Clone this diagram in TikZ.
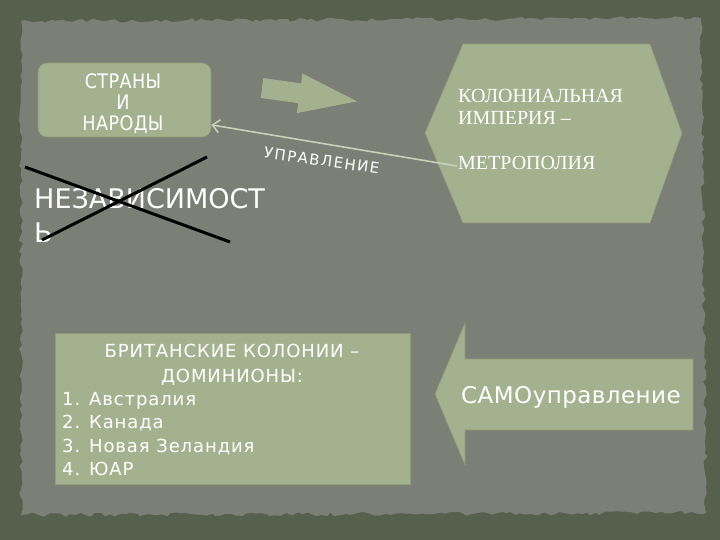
\documentclass[tikz,border=0pt]{standalone}
\usepackage{fontspec}
\setmainfont{DejaVu Sans}
\newfontfamily\serfontA{Liberation Serif}
\newfontfamily\spfontA[FakeStretch=0.88,LetterSpace=2]{DejaVu Sans}
\newfontfamily\spfontB[LetterSpace=10]{DejaVu Sans}
\newfontfamily\spfontC[LetterSpace=5]{DejaVu Sans}
\newfontfamily\spfontD[LetterSpace=2]{DejaVu Sans}
\usetikzlibrary{arrows.meta,decorations.pathmorphing}
\definecolor{framec}{RGB}{86,96,76}
\definecolor{paperc}{RGB}{123,127,117}
\definecolor{sagec}{RGB}{164,177,142}
\definecolor{sageedge}{RGB}{142,154,122}
\definecolor{linec}{RGB}{200,208,185}
\begin{document}
\begin{tikzpicture}[x=1pt,y=-1pt,
  txt/.style={text=white, inner sep=0pt, anchor=base},
  txtl/.style={text=white, inner sep=0pt, anchor=base west},
  sagebox/.style={fill=sagec, draw=sageedge, line width=0.6pt, inner sep=0pt},
  conn/.style={draw=linec, line width=1.6pt, -{Straight Barb[length=7pt,width=13pt]}},
  crossline/.style={draw=black, line width=3pt}]
\useasboundingbox (0,0) rectangle (720,540);
\fill[framec] (0,0) rectangle (720,540);
\fill[paperc, decorate, decoration={random steps,segment length=5pt,amplitude=2pt}]
  (21,21) -- (701,18) -- (706,513) -- (21,515) -- cycle;

% countries box
\node[sagebox, rounded corners=9pt, minimum width=173pt, minimum height=74pt] (strany) at (124.5,100) {};
\node[txt, font=\spfontA\fontsize{20}{21}\selectfont] (s1) at (123,89) {СТРАНЫ};
\node[txt, font=\spfontA\fontsize{20}{21}\selectfont] (s2) at (123,110) {И};
\node[txt, font=\spfontA\fontsize{20}{21}\selectfont] (s3) at (123,131) {НАРОДЫ};

% block arrow right
\fill[sagec, rotate around={-8:(262,88)}]
  (262,78) -- (300,78) -- (300,68) -- (358,88) -- (300,108) -- (300,98) -- (262,98) -- cycle;

% hexagon
\filldraw[fill=sagec, draw=sageedge, line width=0.6pt]
  (463,44) -- (650,44) -- (682,133) -- (650,223) -- (463,223) -- (425,133) -- cycle;
\node[txtl, font=\serfontA\fontsize{20}{22}\selectfont] (h1) at (458,103) {КОЛОНИАЛЬНАЯ};
\node[txtl, font=\serfontA\fontsize{20}{22}\selectfont] (h2) at (458,125) {ИМПЕРИЯ –};
\node[txtl, font=\serfontA\fontsize{20}{22}\selectfont] (h3) at (458,170) {МЕТРОПОЛИЯ};

% control connector
\coordinate (metend) at (457,166);
\draw[conn] (metend) -- (strany.-16);
\node[txt, rotate=-8, font=\spfontB\fontsize{15}{17}\selectfont] (upr) at (321,166) {УПРАВЛЕНИЕ};

% independence crossed out
\node[txtl, font=\fontsize{27}{33}\selectfont] (n1) at (34,209) {НЕЗАВИСИМОСТ};
\node[txtl, font=\fontsize{27}{33}\selectfont] (n2) at (34,242) {Ь};
\draw[crossline] (25,167) -- (230,242);
\draw[crossline] (207,157) -- (42,240);

% british colonies box
\node[sagebox, minimum width=355pt, minimum height=151pt] (brit) at (232.5,408.5) {};
\node[txt, font=\spfontC\fontsize{18}{20}\selectfont] (b1) at (232,357) {БРИТАНСКИЕ КОЛОНИИ –};
\node[txt, font=\spfontC\fontsize{18}{20}\selectfont] (b2) at (232,382) {ДОМИНИОНЫ:};
\node[txtl, font=\spfontC\fontsize{18}{20}\selectfont] (b3) at (62,405) {1. Австралия};
\node[txtl, font=\spfontC\fontsize{18}{20}\selectfont] (b4) at (62,428) {2. Канада};
\node[txtl, font=\spfontC\fontsize{18}{20}\selectfont] (b5) at (62,452) {3. Новая Зеландия};
\node[txtl, font=\spfontC\fontsize{18}{20}\selectfont] (b6) at (62,475) {4. ЮАР};

% self-government arrow
\filldraw[fill=sagec, draw=sageedge, line width=0.6pt]
  (693,359) -- (465,359) -- (465,323) -- (435,394) -- (465,465) -- (465,430) -- (693,430) -- cycle;
\node[txtl, font=\spfontD\fontsize{23}{27}\selectfont] (samo) at (461,403) {САМОуправление};
\end{tikzpicture}
\end{document}
